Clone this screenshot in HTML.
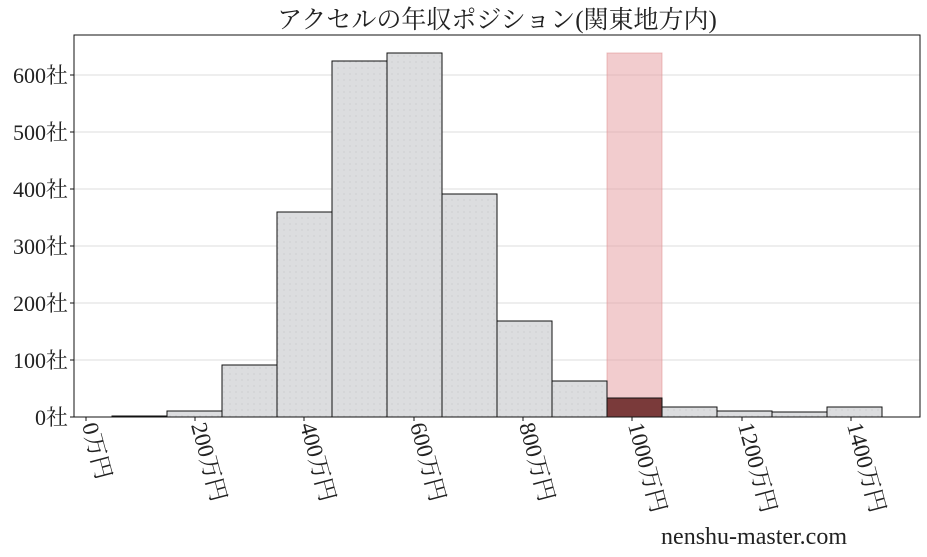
<!DOCTYPE html>
<html><head><meta charset="utf-8"><style>body{margin:0;background:#fff}svg{display:block}text{font-family:"Liberation Serif","Noto Serif CJK JP",serif;fill:#222}</style></head><body>
<svg width="927" height="557" xmlns="http://www.w3.org/2000/svg">
<defs><pattern id="d" width="6" height="6" patternUnits="userSpaceOnUse"><rect width="6" height="6" fill="#dcdddf"/><circle cx="2" cy="2" r="0.5" fill="#b8b9bd"/></pattern></defs>
<text x="497" y="28" font-size="25" text-anchor="middle">アクセルの年収ポジション(関東地方内)</text>
<g stroke="#ddd" stroke-width="1">
<line x1="74" x2="920" y1="360" y2="360"/><line x1="74" x2="920" y1="303" y2="303"/><line x1="74" x2="920" y1="246" y2="246"/><line x1="74" x2="920" y1="189" y2="189"/><line x1="74" x2="920" y1="132" y2="132"/><line x1="74" x2="920" y1="75" y2="75"/>
</g>
<rect x="607" y="53" width="55" height="364" fill="#e8a3a5" fill-opacity="0.55" stroke="#d88" stroke-opacity="0.5"/>
<g stroke="#111" stroke-width="1" fill="url(#d)">
<rect x="112" y="416" width="55" height="1"/>
<rect x="167" y="411" width="55" height="6"/>
<rect x="222" y="365" width="55" height="52"/>
<rect x="277" y="212" width="55" height="205"/>
<rect x="332" y="61" width="55" height="356"/>
<rect x="387" y="53" width="55" height="364"/>
<rect x="442" y="194" width="55" height="223"/>
<rect x="497" y="321" width="55" height="96"/>
<rect x="552" y="381" width="55" height="36"/>
<rect x="607" y="398" width="55" height="19" fill="#7a3a3a"/>
<rect x="662" y="407" width="55" height="10"/>
<rect x="717" y="411" width="55" height="6"/>
<rect x="772" y="412" width="55" height="5"/>
<rect x="827" y="407" width="55" height="10"/>
</g>
<rect x="74" y="35" width="846" height="382" fill="none" stroke="#111" stroke-width="1"/>
<g font-size="22" text-anchor="end">
<text x="68" y="425">0社</text><text x="68" y="368">100社</text><text x="68" y="311">200社</text><text x="68" y="254">300社</text><text x="68" y="197">400社</text><text x="68" y="140">500社</text><text x="68" y="83">600社</text>
</g>
<g stroke="#111"><line x1="70" x2="74" y1="417" y2="417"/><line x1="70" x2="74" y1="360" y2="360"/><line x1="70" x2="74" y1="303" y2="303"/><line x1="70" x2="74" y1="246" y2="246"/><line x1="70" x2="74" y1="189" y2="189"/><line x1="70" x2="74" y1="132" y2="132"/><line x1="70" x2="74" y1="75" y2="75"/>
<line x1="86" x2="86" y1="417" y2="421"/><line x1="195" x2="195" y1="417" y2="421"/><line x1="304" x2="304" y1="417" y2="421"/><line x1="414" x2="414" y1="417" y2="421"/><line x1="523" x2="523" y1="417" y2="421"/><line x1="632" x2="632" y1="417" y2="421"/><line x1="742" x2="742" y1="417" y2="421"/><line x1="851" x2="851" y1="417" y2="421"/></g>
<g font-size="23">
<text transform="translate(82,425) rotate(75)">0万円</text>
<text transform="translate(191,425) rotate(75)">200万円</text>
<text transform="translate(300,425) rotate(75)">400万円</text>
<text transform="translate(410,425) rotate(75)">600万円</text>
<text transform="translate(519,425) rotate(75)">800万円</text>
<text transform="translate(628,425) rotate(75)">1000万円</text>
<text transform="translate(738,425) rotate(75)">1200万円</text>
<text transform="translate(847,425) rotate(75)">1400万円</text>
</g>
<text x="847" y="544" font-size="24" text-anchor="end">nenshu-master.com</text>
</svg>
</body></html>
